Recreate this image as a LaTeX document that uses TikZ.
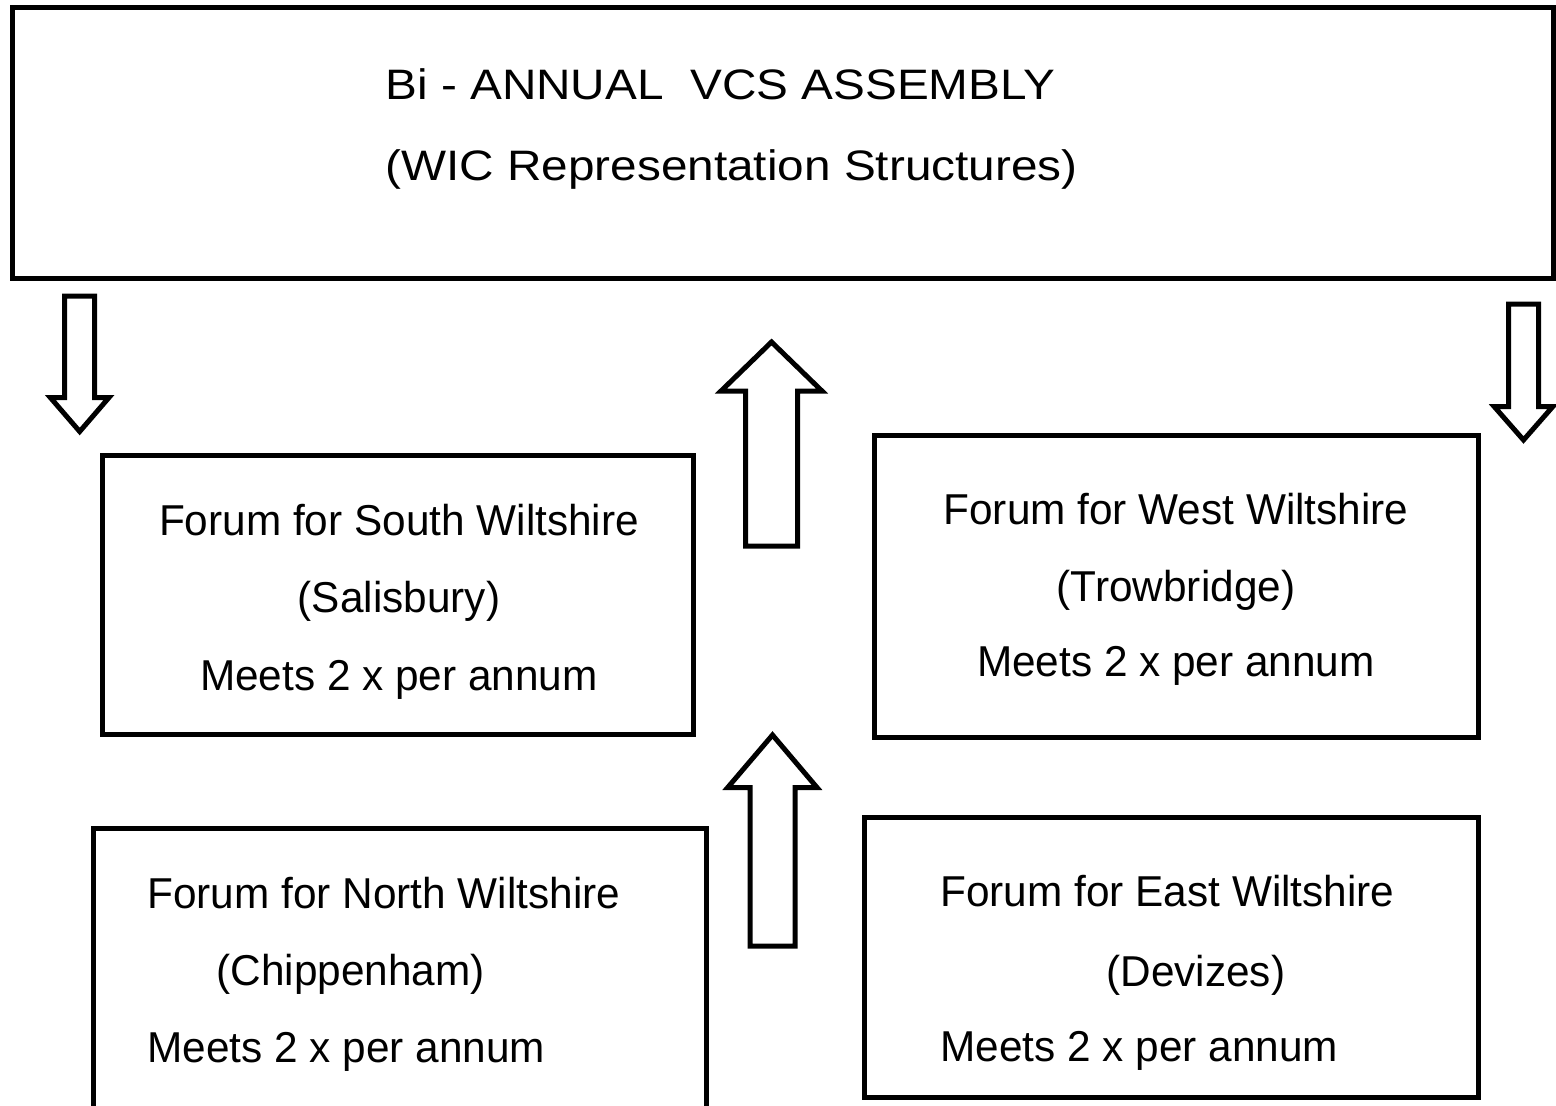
\documentclass[tikz,border=0pt]{standalone}
\usepackage{fontspec}
\setmainfont{Liberation Sans}
\newfontfamily\titlefont[FakeStretch=1.12]{Liberation Sans}
\newfontfamily\bodyfont[FakeStretch=0.98]{Liberation Sans}
\usetikzlibrary{fit}
\begin{document}
\begin{tikzpicture}[x=0.5pt,y=-0.5pt,
  frame/.style={draw, line width=2.5pt, inner sep=0pt, outer sep=0pt, rectangle},
  blockarrow/.style={draw, line width=2.5pt, line join=miter, fill=white},
  txt/.style={inner sep=0pt, font=\bodyfont\fontsize{21.6}{25}\selectfont},
  titletxt/.style={inner sep=0pt, font=\titlefont\fontsize{21.3}{25}\selectfont}]
\clip (0,0) rectangle (1556,1105);
\fill[white] (0,0) rectangle (1556,1105);

% boxes
\node[frame, fit={(12.5,7) (1553,278.5)}] (assembly) {};
\node[frame, fit={(102,455) (693,734)}] (south) {};
\node[frame, fit={(874,435) (1478,737)}] (west) {};
\node[frame, fit={(93,828) (706.5,1130)}] (north) {};
\node[frame, fit={(864,817.5) (1478,1097.5)}] (east) {};

% title text
\node[titletxt, anchor=base west] (t1) at (385,99) {Bi - ANNUAL\ \ VCS ASSEMBLY};
\node[titletxt, anchor=base west] (t2) at (385,180) {(WIC Representation Structures)};

% south
\node[txt, anchor=base] (s1) at (399,535) {Forum for South Wiltshire};
\node[txt, anchor=base] (s2) at (399,612) {(Salisbury)};
\node[txt, anchor=base] (s3) at (399,690) {Meets 2 x per annum};

% west
\node[txt, anchor=base] (w1) at (1176,524) {Forum for West Wiltshire};
\node[txt, anchor=base] (w2) at (1176,601.7) {(Trowbridge)};
\node[txt, anchor=base] (w3) at (1176,676.7) {Meets 2 x per annum};

% north
\node[txt, anchor=base west] (n1) at (147,908) {Forum for North Wiltshire};
\node[txt, anchor=base west] (n2) at (216,985) {(Chippenham)};
\node[txt, anchor=base west] (n3) at (147,1062) {Meets 2 x per annum};

% east
\node[txt, anchor=base west] (e1) at (940,906) {Forum for East Wiltshire};
\node[txt, anchor=base west] (e2) at (1106,986) {(Devizes)};
\node[txt, anchor=base west] (e3) at (940,1061) {Meets 2 x per annum};

% block arrows
\draw[blockarrow] (64.5,296) -- (94.5,296) -- (94.5,397.5) -- (109,397.5) -- (79.7,431.5) -- (50.3,397.5) -- (64.5,397.5) -- cycle;
\draw[blockarrow] (1508.5,304) -- (1538.5,304) -- (1538.5,406.7) -- (1552.7,406.7) -- (1523.5,440) -- (1494.3,406.7) -- (1508.5,406.7) -- cycle;
\draw[blockarrow] (745.5,546) -- (797.5,546) -- (797.5,391) -- (822,391) -- (771.5,342) -- (721,391) -- (745.5,391) -- cycle;
\draw[blockarrow] (750,946) -- (795,946) -- (795,787.5) -- (817,787.5) -- (772.5,735) -- (727.7,787.5) -- (750,787.5) -- cycle;
\end{tikzpicture}
\end{document}
